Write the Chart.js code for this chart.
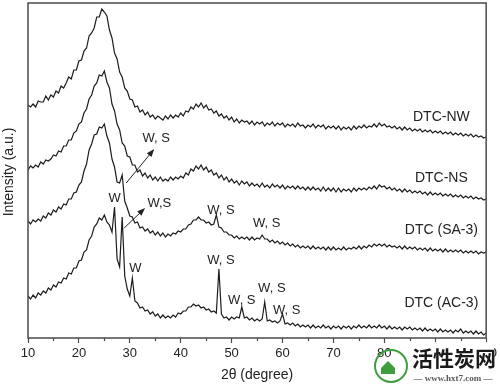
<!DOCTYPE html>
<html>
<head>
<meta charset="utf-8">
<script src="https://cdn.jsdelivr.net/npm/chart.js@4.4.1/dist/chart.umd.min.js"></script>
<style>
    html, body { margin: 0; padding: 0; background: #fff; }
    canvas { display: block; }
</style>
</head>
<body>
<canvas id="xrd" width="500" height="386"></canvas>
<script>
// 2-theta steps (degree)
const twoTheta = [10,10.5,11,11.5,12,12.5,13,13.5,14,14.5,15,15.5,16,16.5,17,17.5,18,18.5,19,19.5,
    20,20.5,21,21.5,22,22.5,23,23.5,24,24.5,25,25.5,26,26.5,27,27.5,28,28.5,29,29.5,
    30,30.5,31,31.5,32,32.5,33,33.5,34,34.5,35,35.5,36,36.5,37,37.5,38,38.5,39,39.5,
    40,40.5,41,41.5,42,42.5,43,43.5,44,44.5,45,45.5,46,46.5,47,47.5,48,48.5,49,49.5,
    50,50.5,51,51.5,52,52.5,53,53.5,54,54.5,55,55.5,56,56.5,57,57.5,58,58.5,59,59.5,
    60,60.5,61,61.5,62,62.5,63,63.5,64,64.5,65,65.5,66,66.5,67,67.5,68,68.5,69,69.5,
    70,70.5,71,71.5,72,72.5,73,73.5,74,74.5,75,75.5,76,76.5,77,77.5,78,78.5,79,79.5,
    80,80.5,81,81.5,82,82.5,83,83.5,84,84.5,85,85.5,86,86.5,87,87.5,88,88.5,89,89.5,
    90,90.5,91,91.5,92,92.5,93,93.5,94,94.5,95,95.5,96,96.5,97,97.5,98,98.5,99,99.5,100];

// intensities (a.u., curves already stacked)
const dtcNW = [233,231,234,231,237,236,236,242,238,243, 241,247,245,252,250,255,261,259,268,268,
    277,278,287,290,302,305,310,321,321,329, 326,322,308,300,285,279,266,261,250,247,
    239,238,231,232,226,228,223,226,221,223, 219,222,220,218,222,219,223,220,223,221,
    225,222,227,226,231,229,234,231,235,230, 233,228,229,225,227,222,224,220,222,218,
    221,216,219,215,218,216,217,214,217,213, 216,214,216,212,215,213,216,212,215,213,
    215,211,214,212,214,211,215,212,213,210, 213,211,214,210,213,211,213,209,212,210,
    212,209,212,208,211,209,211,208,212,209, 212,210,213,210,212,211,214,211,215,212,
    214,211,212,210,212,209,211,208,211,208, 210,207,209,207,209,206,208,206,208,205,
    207,205,207,204,206,204,206,203,205,203, 205,202,204,202,204,201,203,201,202,200, 201];

const dtcNS = [168,172,170,173,171,176,174,178,177,179, 183,182,187,186,192,192,198,198,205,207,
    214,216,225,229,239,243,252,255,263,262, 267,256,250,234,227,214,208,195,192,182,
    181,173,173,166,168,162,165,160,163,158, 161,157,161,157,159,157,161,158,161,159,
    162,160,165,163,169,167,172,169,173,168, 171,166,168,163,165,160,163,158,161,156,
    159,155,157,153,157,154,156,152,155,152, 154,151,155,151,153,150,154,151,153,150,
    153,149,152,150,152,149,152,149,151,148, 151,148,151,148,150,147,151,147,150,147,
    150,146,150,146,149,147,149,146,150,147, 150,148,150,148,151,149,152,149,153,151,
    152,149,151,148,150,147,149,146,149,146, 148,145,147,145,147,144,146,143,146,143,
    145,143,145,142,144,142,144,141,143,141, 143,140,142,140,142,139,141,139,140,138, 139];

const dtcSA3 = [117,114,118,116,119,117,122,120,125,123, 128,126,131,129,134,133,139,139,145,146,
    153,156,167,174,188,194,203,204,211,210, 214,202,195,179,171,156,155,163,137,130,
    122,121,115,116,110,111,107,109,105,107, 103,106,102,105,101,104,102,105,104,107,
    106,109,109,113,114,118,118,121,118,118, 115,116,113,114,123,111,110,106,106,103,
    103,100,102,99,101,99,101,98,101,98, 100,99,103,99,99,96,98,95,97,94,
    96,93,95,92,94,91,93,90,92,90, 92,89,92,89,91,89,91,88,91,88,
    91,88,90,88,91,88,90,89,91,89, 92,89,92,90,93,91,94,92,94,92,
    94,91,93,91,92,90,92,89,92,89, 91,89,91,88,90,88,90,87,90,87,
    89,87,89,86,89,86,88,86,88,86, 88,85,87,85,87,85,87,84,86,85, 86];

const dtcAC3 = [42,39,43,40,45,43,47,45,50,48, 53,51,56,55,60,59,65,64,70,70,
    77,78,86,88,98,102,111,114,120,118, 123,116,113,106,131,79,71,121,62,49,
    42,60,37,35,30,31,27,28,24,26, 22,24,20,23,20,22,20,23,21,25,
    24,27,27,31,31,34,32,33,30,31, 28,29,26,27,25,69,24,20,21,18,
    21,19,21,20,31,20,21,18,20,17, 19,17,19,36,17,18,16,17,15,17,
    24,14,15,13,15,12,14,11,13,11, 13,10,13,10,12,10,13,10,12,9,
    12,10,12,9,12,10,12,9,12,10, 13,10,12,10,13,10,12,10,13,10,
    12,9,12,9,11,9,11,8,11,9, 11,8,10,8,10,7,10,7,9,7,
    9,6,9,6,8,6,8,5,8,6, 9,5,7,5,7,4,7,4,6,3, 5];

const sampleNames = ['DTC-NW', 'DTC-NS', 'DTC (SA-3)', 'DTC (AC-3)'];
const sampleLabelX = [91.2, 91.2, 91.2, 91.2];
const sampleLabelY = [221, 160, 108, 35];

const peakText = ['W, S', 'W', 'W,S', 'W, S', 'W, S', 'W', 'W, S', 'W, S', 'W, S', 'W, S'];
const peakX = [35.2, 27.0, 35.8, 47.9, 56.9, 31.1, 47.9, 52.0, 57.9, 60.8];
const peakY = [200, 140, 135, 128, 115, 70, 78, 38, 50, 28];

// arrows: [x0, y0, x1, y1] in degree / a.u.
const arrowFrom = [[29.3, 155], [28.9, 110]];
const arrowTo = [[34.8, 189], [33.0, 130]];

const minorTicks = [15, 25, 35, 45, 55, 65, 75, 85, 95];

const fontFamily = 'Arial, "Liberation Sans", sans-serif';
const inkColor = '#222';

var extra = {
    id: 'xrdDecor',
    afterDraw(chart) {
        const {ctx, chartArea: {left, right, top, bottom}, scales: {x, y}} = chart;
        ctx.save();

        // box round the plot
        ctx.strokeStyle = '#4a4a4a';
        ctx.lineWidth = 1.5;
        ctx.strokeRect(left, top, right - left, bottom - top);

        // minor ticks
        ctx.lineWidth = 1.2;
        minorTicks.forEach((v) => {
            const px = Math.round(x.getPixelForValue(v)) + 0.5;
            ctx.beginPath();
            ctx.moveTo(px, bottom);
            ctx.lineTo(px, bottom + 3);
            ctx.stroke();
        });

        ctx.fillStyle = inkColor;
        ctx.textBaseline = 'middle';

        // sample names
        ctx.textAlign = 'center';
        ctx.font = '14px ' + fontFamily;
        sampleNames.forEach((name, i) => {
            ctx.fillText(name, x.getPixelForValue(sampleLabelX[i]), y.getPixelForValue(sampleLabelY[i]));
        });

        // peak labels
        ctx.font = '13px ' + fontFamily;
        peakText.forEach((t, i) => {
            ctx.fillText(t, x.getPixelForValue(peakX[i]), y.getPixelForValue(peakY[i]));
        });

        // arrows
        ctx.strokeStyle = inkColor;
        ctx.lineWidth = 1;
        arrowFrom.forEach((p0, i) => {
            const x0 = x.getPixelForValue(p0[0]), y0 = y.getPixelForValue(p0[1]);
            const x1 = x.getPixelForValue(arrowTo[i][0]), y1 = y.getPixelForValue(arrowTo[i][1]);
            const a = Math.atan2(y1 - y0, x1 - x0);
            ctx.beginPath();
            ctx.moveTo(x0, y0);
            ctx.lineTo(x1 - 5 * Math.cos(a), y1 - 5 * Math.sin(a));
            ctx.stroke();
            ctx.beginPath();
            ctx.moveTo(x1, y1);
            ctx.lineTo(x1 - 8 * Math.cos(a) + 3 * Math.sin(a), y1 - 8 * Math.sin(a) - 3 * Math.cos(a));
            ctx.lineTo(x1 - 8 * Math.cos(a) - 3 * Math.sin(a), y1 - 8 * Math.sin(a) + 3 * Math.cos(a));
            ctx.closePath();
            ctx.fill();
        });

        // y title
        ctx.save();
        ctx.translate(9, 172);
        ctx.rotate(-Math.PI / 2);
        ctx.font = '14px ' + fontFamily;
        ctx.fillText('Intensity (a.u.)', 0, 0);
        ctx.restore();

        // site watermark over the corner
        ctx.fillStyle = '#fff';
        ctx.fillRect(410, 342, 84, 44);
        ctx.strokeStyle = '#3f9f3f';
        ctx.lineWidth = 2;
        ctx.beginPath();
        ctx.arc(391, 366, 16, 0, Math.PI * 2);
        ctx.stroke();
        ctx.fillStyle = '#3f9f3f';
        ctx.beginPath();
        ctx.moveTo(381, 368); ctx.lineTo(388, 361); ctx.lineTo(395, 368);
        ctx.lineTo(395, 374); ctx.lineTo(381, 374);
        ctx.closePath();
        ctx.fill();
        ctx.fillStyle = '#1a1a1a';
        ctx.textAlign = 'left';
        ctx.textBaseline = 'alphabetic';
        ctx.font = 'bold 21px "Noto Sans CJK SC", sans-serif';
        ctx.fillText('活性炭网', 412, 366);
        ctx.fillStyle = '#555';
        ctx.textAlign = 'center';
        ctx.font = 'bold 9px "Liberation Serif", serif';
        ctx.fillText('— www.hxt7.com —', 453, 381);

        ctx.restore();
    }
};

var lineSet = (data) => ({
    data: data,
    borderColor: '#1c1c1c',
    borderWidth: 1.2,
    pointRadius: 0,
    tension: 0,
    fill: false
});

var config = {
    type: 'line',
    data: {
        labels: twoTheta,
        datasets: [lineSet(dtcNW), lineSet(dtcNS), lineSet(dtcSA3), lineSet(dtcAC3)]
    },
    options: {
        responsive: false,
        animation: false,
        layout: {
            padding: { left: 28, right: 11, top: 3, bottom: 0 }
        },
        plugins: {
            legend: { display: false },
            tooltip: { enabled: false }
        },
        scales: {
            x: {
                type: 'linear',
                min: 10,
                max: 100,
                afterFit(scale) {
                    scale.height = 48;
                },
                ticks: {
                    stepSize: 10,
                    autoSkip: false,
                    maxRotation: 0,
                    padding: 3,
                    color: inkColor,
                    font: { family: fontFamily, size: 13 }
                },
                grid: {
                    drawOnChartArea: false,
                    tickLength: 5,
                    tickWidth: 1.2,
                    tickColor: '#4a4a4a'
                },
                border: { display: false },
                title: {
                    display: true,
                    text: '2θ (degree)',
                    color: inkColor,
                    font: { family: fontFamily, size: 14 },
                    padding: { top: 0, bottom: 2 }
                }
            },
            y: {
                display: false,
                min: 0,
                max: 335
            }
        }
    },
    plugins: [extra]
};

new Chart(document.getElementById('xrd'), config);
</script>
</body>
</html>
